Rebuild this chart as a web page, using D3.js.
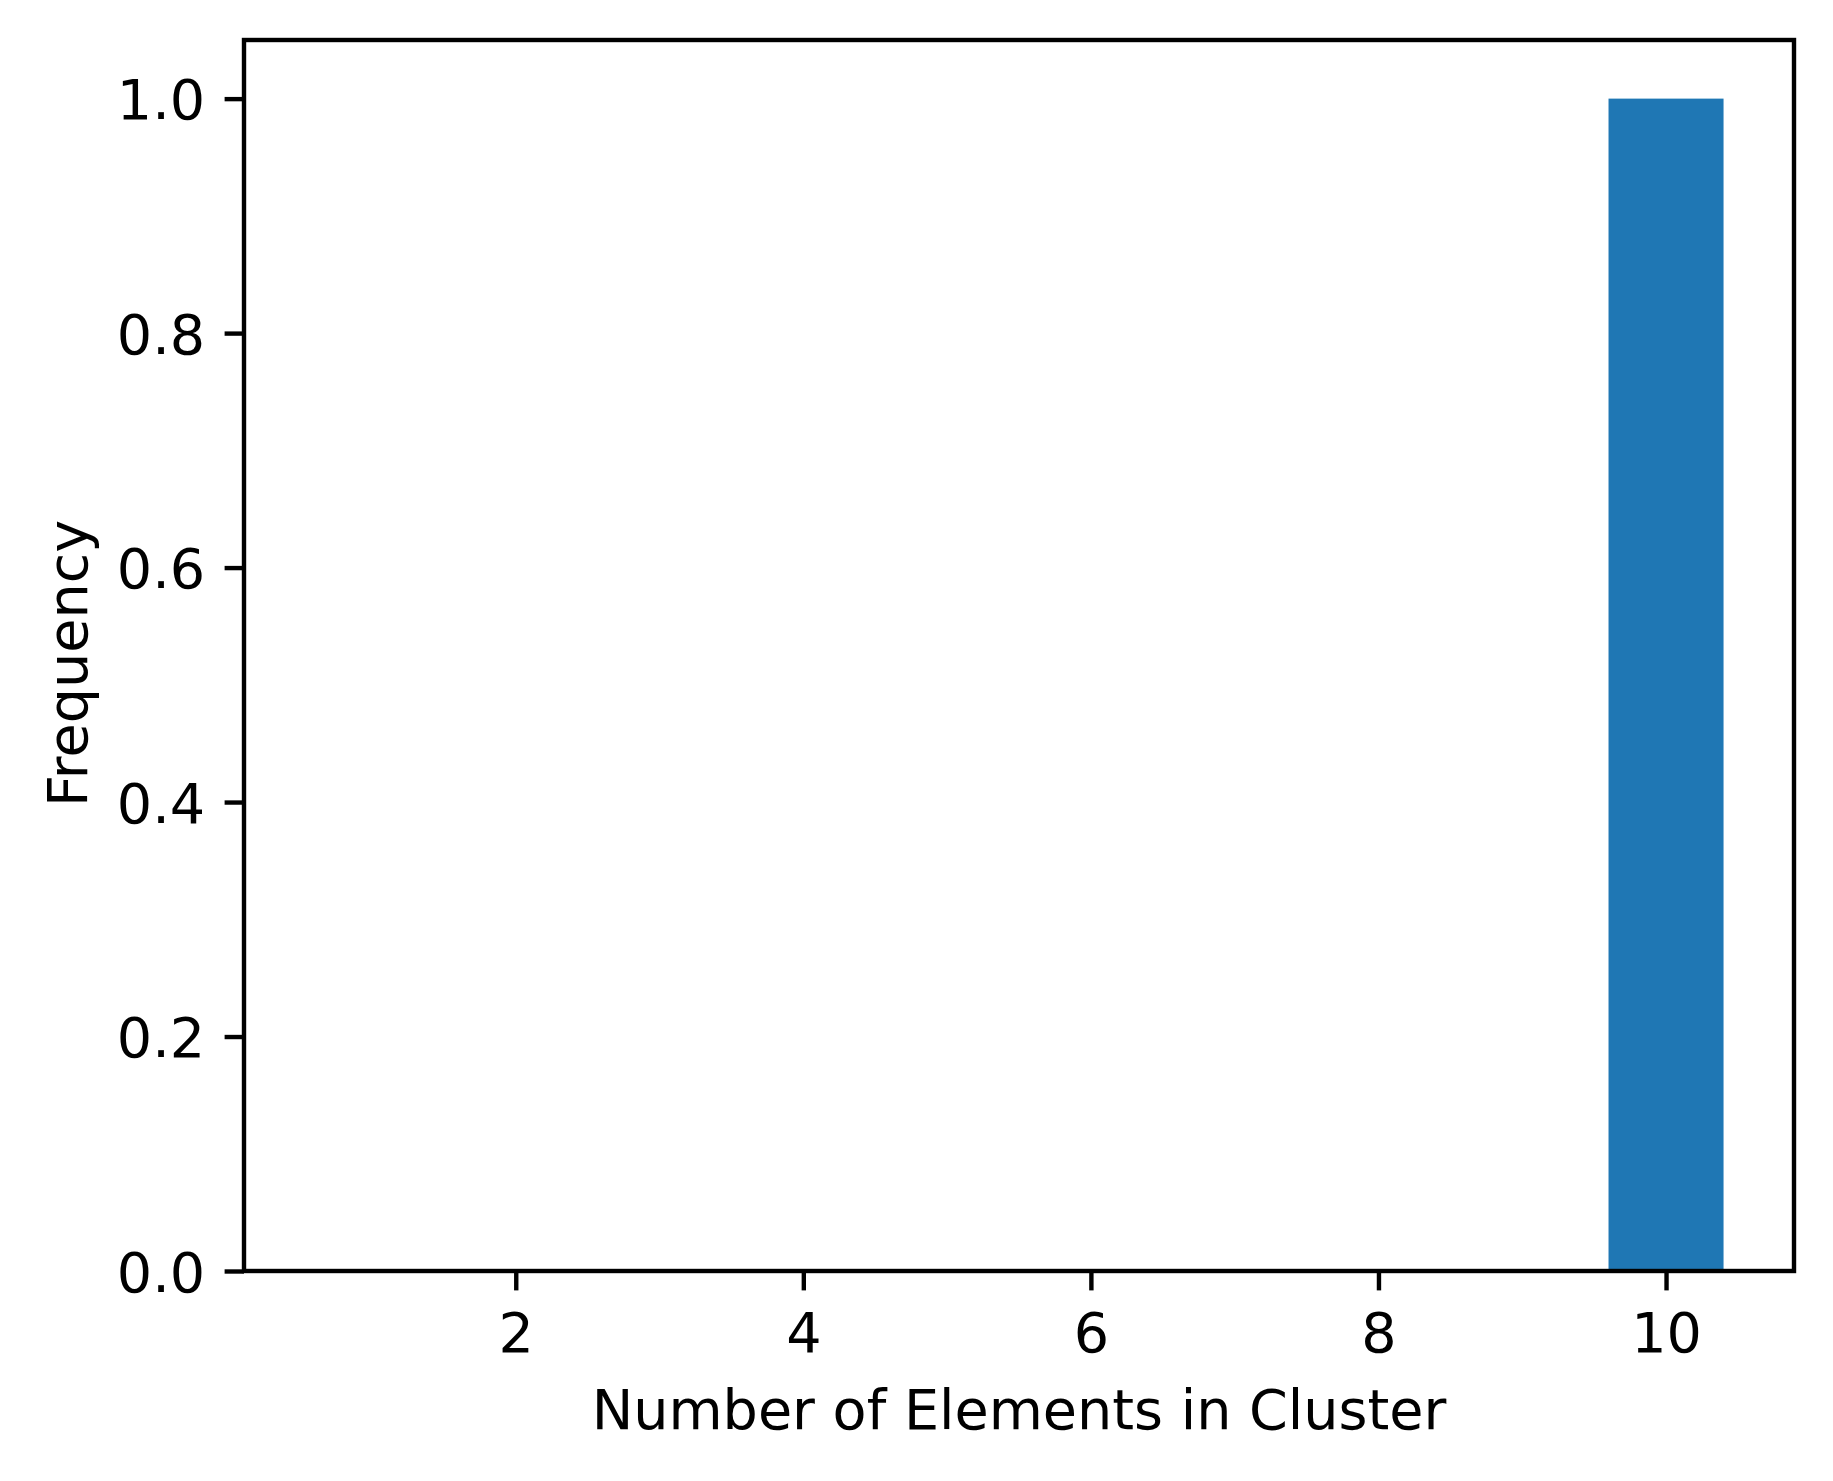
<!DOCTYPE html>
<html>
<head>
<meta charset="utf-8">
<script src="https://cdn.jsdelivr.net/npm/d3@7"></script>
<style>
  body { margin: 0; background: #fff; }
  svg text { font-family: "DejaVu Sans", sans-serif; fill: #000; }
</style>
</head>
<body>
<div id="plot"></div>
<script>
// Data
var clusterSizes = [1, 2, 3, 4, 5, 6, 7, 8, 9, 10];
var frequencies = [0, 0, 0, 0, 0, 0, 0, 0, 0, 1];
var xTicks = [2, 4, 6, 8, 10];
var yTicks = [0, 0.2, 0.4, 0.6, 0.8, 1.0];

// Dimensions
var W = 1833, H = 1481;
var margin = {top: 40, right: 39, bottom: 210, left: 244},
    width = W - margin.left - margin.right,
    height = H - margin.top - margin.bottom;

var fontSize = 55.6, lw = 4.4, tickLen = 19.4, pad = 19.4;
var barWidth = 0.8;

var svg = d3.select("#plot")
    .append("svg")
        .attr("width", W)
        .attr("height", H)
    .append("g")
        .attr("transform", "translate(" + margin.left + "," + margin.top + ")");

// X scale (bar extent plus 5% margins like matplotlib)
var lo = d3.min(clusterSizes) - barWidth / 2,
    hi = d3.max(clusterSizes) + barWidth / 2,
    m = (hi - lo) * 0.05;
var x = d3.scaleLinear()
    .domain([lo - m, hi + m])
    .range([0, width]);

// Y scale
var y = d3.scaleLinear()
    .domain([0, d3.max(frequencies) * 1.05])
    .range([height, 0]);

// Bars
svg.append("g")
    .selectAll("rect")
    .data(clusterSizes)
    .enter().append("rect")
        .attr("x", function(d) { return x(d - barWidth / 2); })
        .attr("width", function(d) { return x(d + barWidth / 2) - x(d - barWidth / 2); })
        .attr("y", function(d, i) { return y(frequencies[i]); })
        .attr("height", function(d, i) { return y(0) - y(frequencies[i]); })
        .attr("fill", "#1f77b4");

// X axis
var gx = svg.append("g")
    .attr("transform", "translate(0," + height + ")")
    .call(d3.axisBottom(x).tickValues(xTicks).tickSize(tickLen).tickPadding(pad).tickFormat(d3.format("d")));
gx.select(".domain").remove();
gx.selectAll(".tick line").attr("stroke", "#000").attr("stroke-width", lw);
gx.selectAll(".tick text")
    .attr("y", tickLen + pad)
    .attr("dy", "0.76em")
    .style("font-size", fontSize + "px");

// Y axis
var gy = svg.append("g")
    .call(d3.axisLeft(y).tickValues(yTicks).tickSize(tickLen).tickPadding(pad).tickFormat(d3.format(".1f")));
gy.select(".domain").remove();
gy.selectAll(".tick line").attr("stroke", "#000").attr("stroke-width", lw);
gy.selectAll(".tick text")
    .attr("dy", "0.36em")
    .style("font-size", fontSize + "px");

// Frame
svg.append("rect")
    .attr("x", 0)
    .attr("y", 0)
    .attr("width", width)
    .attr("height", height)
    .attr("fill", "none")
    .attr("stroke", "#000")
    .attr("stroke-width", lw)
    .attr("stroke-linejoin", "miter");

// Axis labels
svg.append("text")
    .attr("x", width / 2)
    .attr("y", 1429 - margin.top)
    .style("text-anchor", "middle")
    .style("font-size", fontSize + "px")
    .text("Number of Elements in Cluster");

svg.append("text")
    .attr("transform", "translate(" + (87 - margin.left) + "," + (height / 2 + 8) + ") rotate(-90)")
    .style("text-anchor", "middle")
    .style("font-size", fontSize + "px")
    .text("Frequency");
</script>
</body>
</html>
